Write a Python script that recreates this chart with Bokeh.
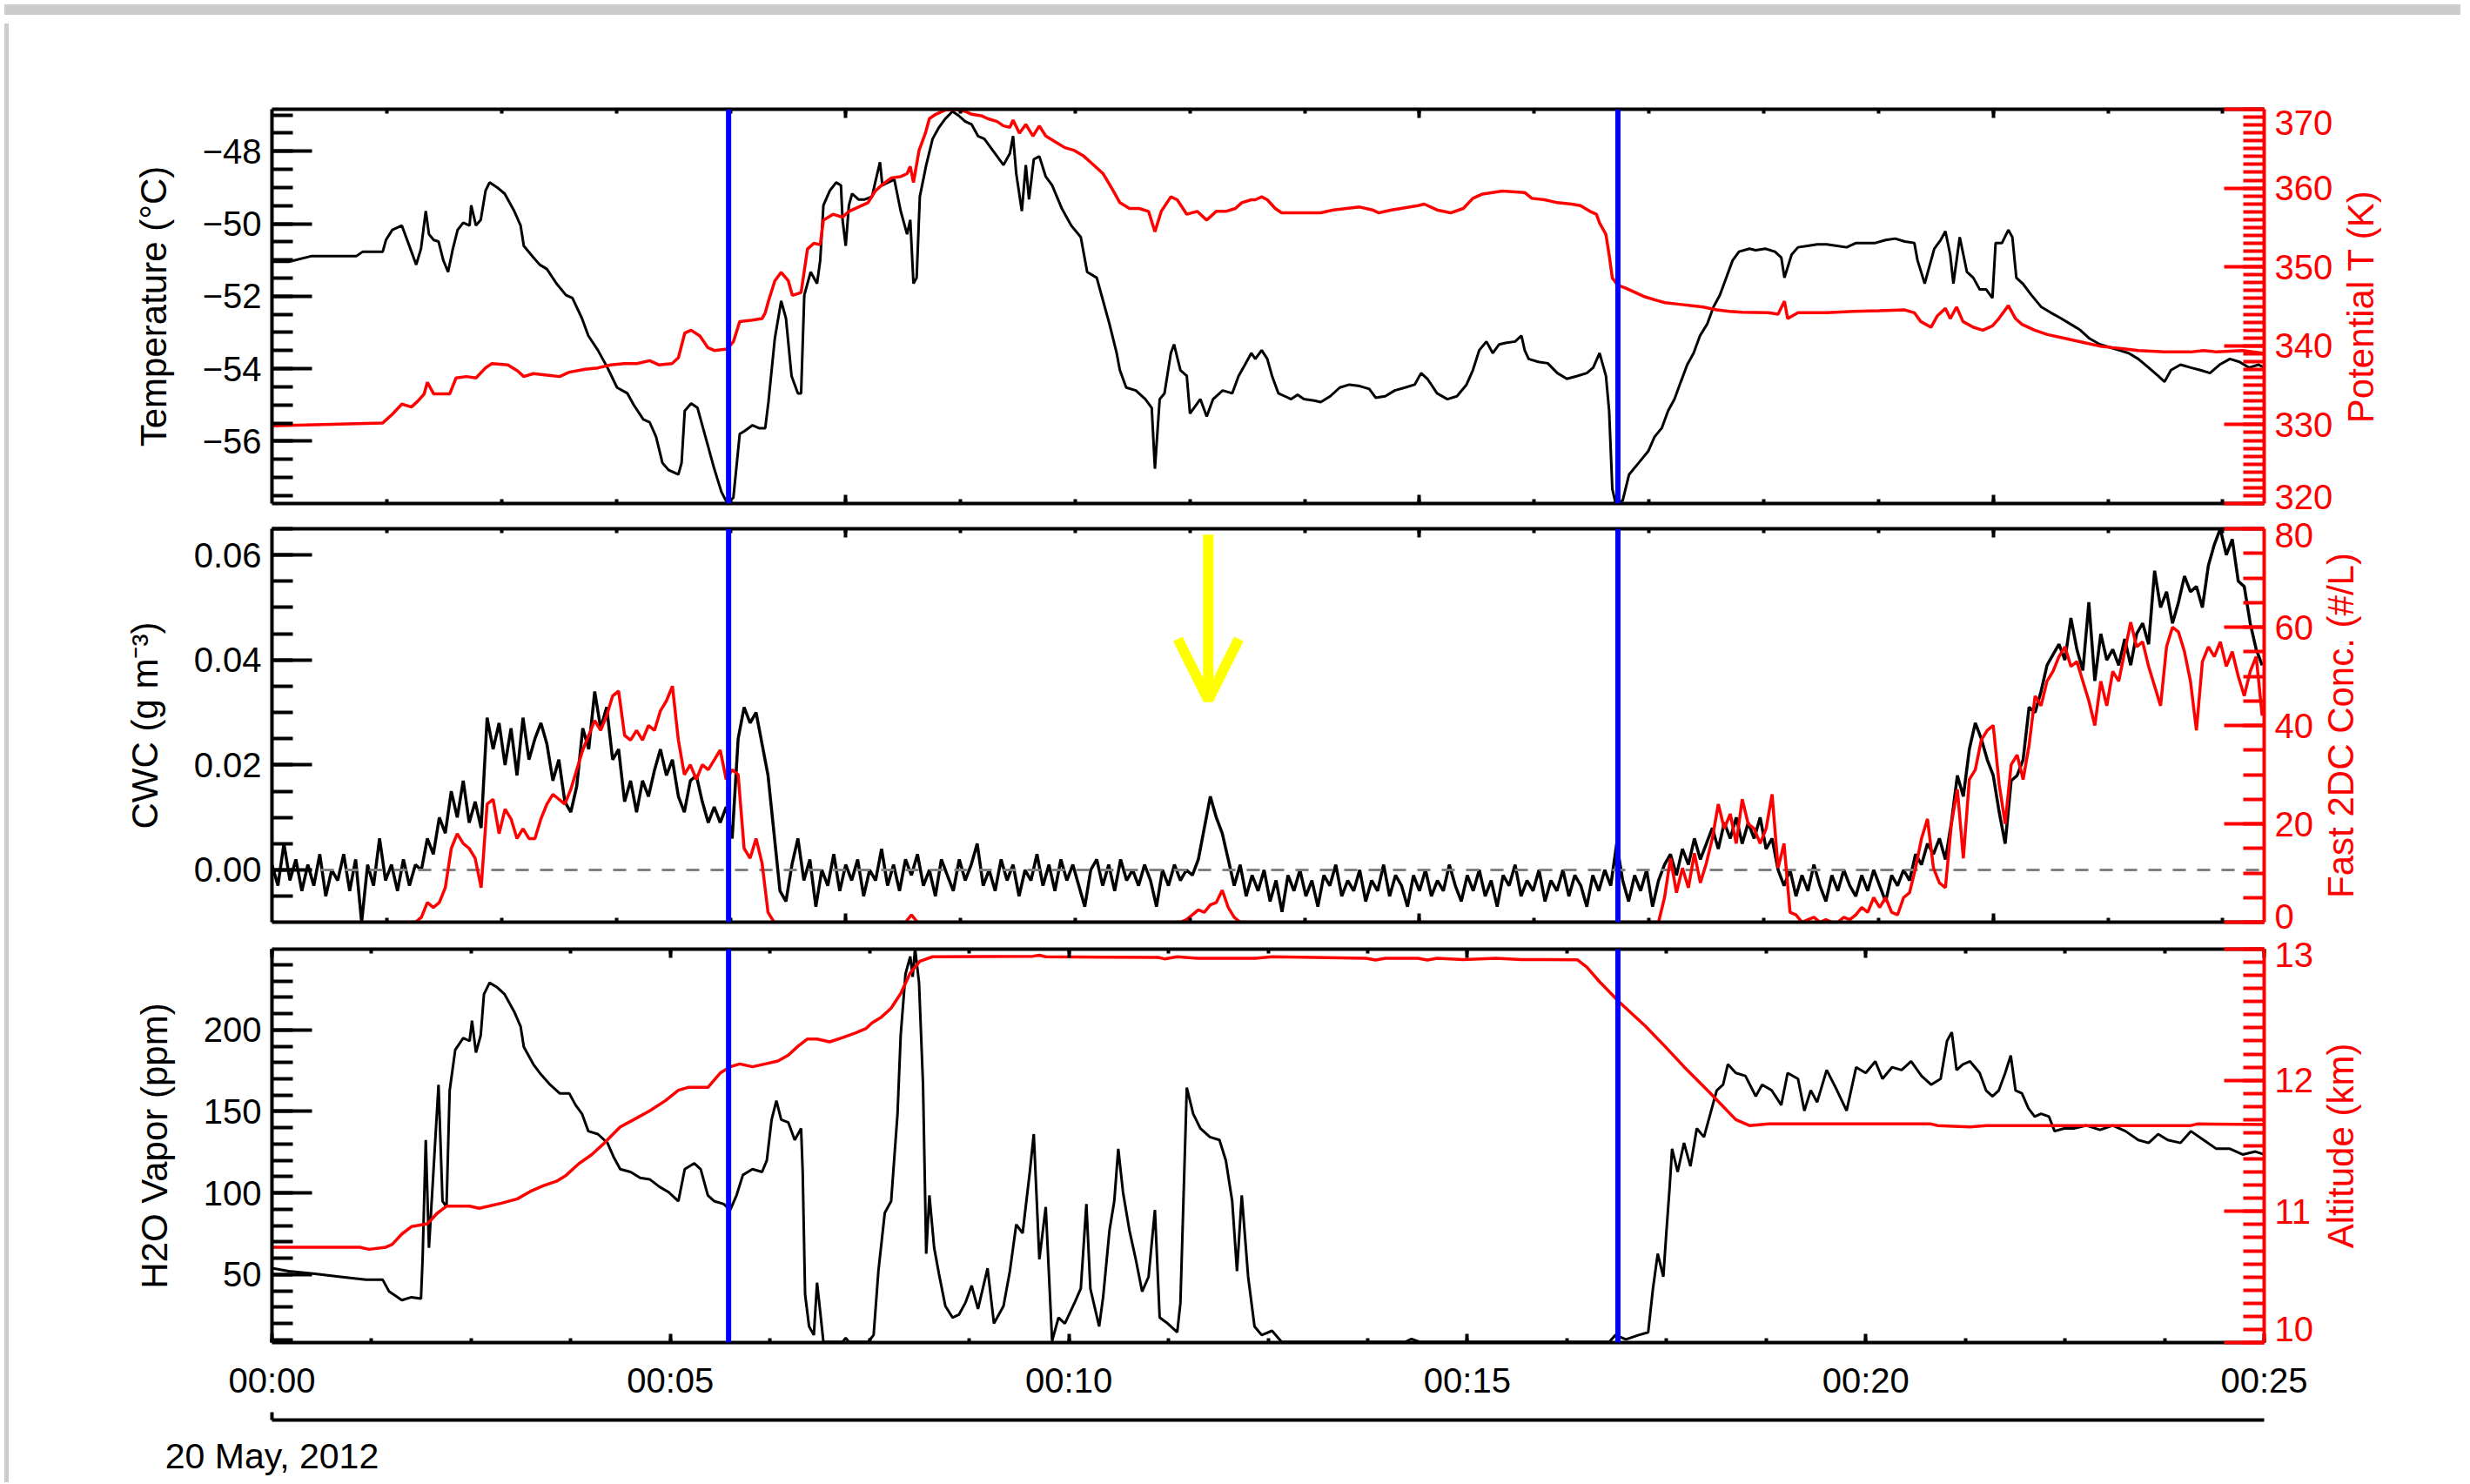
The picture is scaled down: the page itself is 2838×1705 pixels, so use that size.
import numpy as np
from bokeh.plotting import figure
from bokeh.models import (Range1d, LinearAxis, SingleIntervalTicker, FixedTicker,
                          PrintfTickFormatter, CustomJSTickFormatter, Span, Arrow, OpenHead, Div)
from bokeh.layouts import column, row
from bokeh.embed import file_html
from bokeh.resources import INLINE

# ---------------- data (time in minutes after 00:00 UT, 20 May 2012) ----------------
temp_pts = [
(0.00,-51.05),(0.21,-51.05),(0.50,-50.89),(1.06,-50.89),(1.14,-50.77),(1.39,-50.77),(1.43,-50.45),(1.51,-50.17),
(1.63,-50.05),(1.71,-50.53),(1.81,-51.13),(1.87,-50.69),(1.93,-49.65),(1.97,-50.29),(2.03,-50.45),(2.09,-50.49),
(2.15,-51.01),(2.21,-51.33),(2.27,-50.69),(2.33,-50.17),(2.40,-49.97),(2.48,-50.05),(2.50,-49.49),(2.56,-50.05),
(2.62,-49.89),(2.68,-49.09),(2.73,-48.86),(2.84,-49.02),(2.92,-49.17),(3.04,-49.65),(3.12,-50.05),(3.16,-50.61),
(3.28,-50.93),(3.36,-51.13),(3.45,-51.25),(3.57,-51.65),(3.69,-51.97),(3.77,-52.05),(3.89,-52.61),(3.97,-53.09),
(4.09,-53.49),(4.21,-53.97),(4.33,-54.52),(4.46,-54.68),(4.54,-55.00),(4.66,-55.40),(4.74,-55.48),(4.82,-55.88),
(4.90,-56.60),(4.98,-56.80),(5.10,-56.92),(5.14,-56.60),(5.18,-55.16),(5.26,-54.96),(5.34,-55.08),(5.43,-55.80),
(5.55,-56.76),(5.64,-57.40),(5.71,-57.70),(5.79,-57.56),(5.87,-55.80),(5.93,-55.72),(6.03,-55.56),(6.11,-55.64),
(6.19,-55.64),(6.23,-54.92),(6.31,-53.17),(6.39,-52.13),(6.45,-52.61),(6.52,-54.20),(6.60,-54.68),(6.64,-54.68),
(6.68,-51.97),(6.76,-51.33),(6.84,-51.65),(6.88,-51.01),(6.92,-49.49),(7.00,-49.09),(7.08,-48.86),(7.14,-48.94),
(7.16,-49.89),(7.20,-50.61),(7.24,-49.49),(7.28,-49.17),(7.36,-49.33),(7.44,-49.33),(7.53,-49.25),(7.57,-48.86),
(7.63,-48.30),(7.66,-48.94),(7.73,-48.86),(7.81,-48.78),(7.89,-49.65),(7.97,-50.29),(8.01,-49.89),(8.05,-51.65),
(8.09,-51.49),(8.13,-49.25),(8.21,-48.38),(8.29,-47.66),(8.37,-47.34),(8.45,-47.10),(8.54,-46.90),(8.62,-47.02),
(8.70,-47.18),(8.78,-47.26),(8.86,-47.58),(8.94,-47.66),(9.02,-47.90),(9.10,-48.14),(9.18,-48.38),(9.26,-48.06),
(9.30,-47.58),(9.34,-48.62),(9.41,-49.65),(9.46,-48.38),(9.50,-49.33),(9.56,-48.22),(9.63,-48.14),(9.71,-48.70),
(9.79,-48.94),(9.91,-49.57),(10.03,-50.05),(10.15,-50.37),(10.23,-51.33),(10.35,-51.49),(10.43,-52.13),(10.51,-52.77),
(10.60,-53.57),(10.64,-54.04),(10.72,-54.52),(10.84,-54.60),(10.96,-54.84),(11.04,-55.08),(11.08,-56.76),(11.14,-54.84),
(11.20,-54.68),(11.28,-53.57),(11.32,-53.33),(11.40,-54.04),(11.48,-54.20),(11.52,-55.24),(11.65,-54.84),(11.73,-55.32),
(11.81,-54.84),(11.93,-54.60),(12.05,-54.68),(12.13,-54.20),(12.21,-53.89),(12.29,-53.57),(12.34,-53.73),(12.42,-53.49),
(12.49,-53.73),(12.55,-54.20),(12.63,-54.68),(12.71,-54.76),(12.79,-54.84),(12.87,-54.72),(12.95,-54.84),(13.08,-54.88),
(13.16,-54.92),(13.28,-54.76),(13.40,-54.52),(13.52,-54.44),(13.65,-54.48),(13.77,-54.56),(13.85,-54.80),(13.97,-54.76),
(14.09,-54.60),(14.22,-54.52),(14.34,-54.44),(14.42,-54.12),(14.50,-54.28),(14.62,-54.68),(14.75,-54.84),(14.87,-54.76),
(14.99,-54.44),(15.07,-54.04),(15.15,-53.49),(15.24,-53.25),(15.32,-53.57),(15.40,-53.33),(15.48,-53.29),(15.60,-53.25),
(15.68,-53.09),(15.72,-53.49),(15.77,-53.73),(15.89,-53.81),(16.01,-53.85),(16.13,-54.12),(16.25,-54.28),(16.38,-54.20),
(16.50,-54.12),(16.58,-53.97),(16.66,-53.57),(16.74,-54.20),(16.78,-55.16),(16.82,-57.32),(16.86,-57.70),(16.95,-57.64),
(17.03,-56.92),(17.15,-56.60),(17.27,-56.28),(17.35,-55.88),(17.44,-55.64),(17.52,-55.16),(17.60,-54.84),(17.68,-54.36),
(17.76,-53.89),(17.84,-53.57),(17.92,-53.09),(18.01,-52.77),(18.09,-52.29),(18.17,-51.97),(18.25,-51.49),(18.33,-51.01),
(18.41,-50.77),(18.54,-50.69),(18.62,-50.73),(18.74,-50.69),(18.86,-50.77),(18.94,-50.93),(18.98,-51.49),(19.07,-50.85),
(19.15,-50.65),(19.27,-50.61),(19.39,-50.57),(19.51,-50.57),(19.64,-50.61),(19.76,-50.65),(19.88,-50.53),(20.00,-50.53),
(20.12,-50.53),(20.25,-50.45),(20.37,-50.41),(20.49,-50.49),(20.61,-50.53),(20.65,-51.01),(20.74,-51.65),(20.78,-51.33),
(20.86,-50.69),(20.94,-50.45),(21.00,-50.21),(21.06,-50.85),(21.10,-51.65),(21.18,-50.37),(21.27,-51.33),(21.35,-51.49),
(21.43,-51.81),(21.51,-51.81),(21.59,-52.05),(21.63,-50.53),(21.71,-50.53),(21.79,-50.17),(21.84,-50.37),(21.89,-51.49),
(21.97,-51.65),(22.08,-51.97),(22.20,-52.29),(22.32,-52.45),(22.45,-52.61),(22.57,-52.77),(22.69,-52.93),(22.81,-53.17),
(22.94,-53.33),(23.06,-53.41),(23.18,-53.49),(23.30,-53.57),(23.42,-53.73),(23.55,-53.97),(23.67,-54.20),(23.75,-54.36),
(23.83,-54.04),(23.95,-53.89),(24.08,-53.97),(24.20,-54.04),(24.32,-54.12),(24.44,-53.89),(24.57,-53.73),(24.69,-53.81),
(24.81,-53.97),(24.93,-53.89),(25.00,-53.97)]

theta_pts = [
(0.00,329.85),(1.39,330.22),(1.51,331.32),(1.63,332.61),(1.75,332.24),(1.83,332.98),(1.91,333.90),(1.95,335.37),
(2.03,333.90),(2.23,333.90),(2.31,335.92),(2.44,336.10),(2.56,335.92),(2.68,337.20),(2.76,337.75),(2.96,337.57),
(3.08,336.84),(3.16,336.10),(3.28,336.47),(3.45,336.28),(3.61,336.10),(3.73,336.65),(3.93,337.02),(4.09,337.20),
(4.25,337.57),(4.42,337.75),(4.58,337.75),(4.74,338.12),(4.86,337.57),(5.02,337.75),(5.10,338.49),(5.18,341.61),
(5.26,341.98),(5.37,341.25),(5.47,339.77),(5.55,339.41),(5.71,339.59),(5.79,340.51),(5.87,343.08),(6.03,343.27),
(6.15,343.45),(6.19,344.19),(6.23,345.66),(6.31,348.23),(6.39,349.33),(6.48,348.23),(6.53,346.39),(6.64,346.76),
(6.72,352.27),(6.80,353.01),(6.88,352.82),(6.92,355.94),(7.04,356.68),(7.16,356.31),(7.24,357.05),(7.36,357.60),
(7.48,358.15),(7.57,359.62),(7.65,360.36),(7.77,361.27),(7.89,361.46),(7.97,361.83),(8.01,362.74),(8.05,360.72),
(8.12,364.77),(8.20,366.97),(8.25,368.81),(8.33,369.36),(8.45,369.91),(8.58,369.98),(8.70,369.73),(8.78,369.36),
(8.90,369.18),(8.98,368.81),(9.10,368.44),(9.18,367.89),(9.26,367.71),(9.30,368.62),(9.38,366.97),(9.46,368.07),
(9.55,366.60),(9.63,367.89),(9.71,366.60),(9.83,365.87),(9.95,365.13),(10.07,364.77),(10.19,364.03),(10.31,362.93),
(10.43,361.83),(10.56,359.62),(10.64,358.15),(10.76,357.42),(10.88,357.42),(11.00,357.05),(11.08,354.47),(11.16,357.05),
(11.28,358.89),(11.36,358.52),(11.48,356.68),(11.61,357.05),(11.73,355.94),(11.85,357.05),(11.97,357.05),(12.09,357.42),
(12.17,358.15),(12.29,358.52),(12.34,358.52),(12.42,358.89),(12.49,358.52),(12.59,357.42),(12.67,356.86),(13.16,356.86),
(13.32,357.23),(13.65,357.60),(13.81,357.23),(13.89,356.86),(14.05,357.23),(14.38,357.78),(14.46,357.97),(14.62,357.23),
(14.79,356.86),(14.95,357.42),(15.07,358.70),(15.19,359.25),(15.44,359.62),(15.72,359.44),(15.81,358.70),(15.97,358.52),
(16.13,358.15),(16.31,357.97),(16.42,357.78),(16.54,357.05),(16.62,356.68),(16.66,355.58),(16.74,354.11),(16.78,351.54),
(16.82,348.60),(16.89,347.68),(16.99,347.31),(17.11,346.76),(17.23,346.21),(17.35,345.84),(17.48,345.47),(17.64,345.29),
(17.80,345.10),(17.96,344.92),(18.13,344.55),(18.29,344.37),(18.45,344.26),(18.78,344.19),(18.90,344.00),(18.98,345.66),
(19.02,343.45),(19.15,344.19),(19.51,344.19),(19.84,344.37),(20.17,344.44),(20.49,344.55),(20.61,344.19),(20.69,343.08),
(20.82,342.35),(20.90,343.82),(21.00,344.74),(21.06,343.45),(21.14,344.92),(21.22,343.08),(21.35,342.35),(21.47,341.98),
(21.59,342.53),(21.67,343.45),(21.79,345.10),(21.88,343.45),(21.96,342.72),(22.12,341.98),(22.28,341.43),(22.45,341.06),
(22.61,340.69),(22.77,340.33),(22.94,339.96),(23.10,339.77),(23.26,339.59),(23.42,339.41),(23.75,339.22),(24.08,339.22),
(24.24,339.41),(24.40,339.22),(24.73,339.41),(25.00,339.04)]

# CWC and Fast 2DC samples on a regular 4.5 s (0.075 min) grid starting at 00:00
SAMPLE_DT = 0.075
cwc_mg = [  # CWC in mg m^-3
1,-3,5,-2,2,-4,1,-3,3,-5,0,-2,3,-4,2,-10,1,-3,6,-2,1,-4,2,-3,1,
0,6,3,10,7,15,10,17,9,13,8,
29,23,28,20,27,18,29,21,25,28,24,17,21,13,11,16,27,23,34,27,31,21,23,13,17,11,17,14,19,23,
18,21,14,11,17,18,13,9,12,9,12,6,25,31,28,30,24,18,7,
-4,-6,1,6,-2,2,-7,0,-3,3,-4,1,-2,2,-5,0,-2,4,-3,1,-4,2,-1,3,-3,0,-5,2,-1,-4,
2,-2,1,5,-3,0,-4,2,-2,1,-5,0,-2,3,-3,1,-4,2,-2,1,-3,-7,0,2,-3,1,-4,2,-2,0,
-3,1,-2,-7,0,-3,1,-2,0,-1,
2,8,14,10,7,2,
-3,1,-5,-1,-4,0,-6,-2,-8,-1,-4,0,-5,-2,-7,-1,-3,1,-5,-2,-4,0,-6,-2,-4,1,-5,-1,-3,-7,
-1,-4,0,-5,-2,-4,1,-3,-6,-1,-4,0,-5,-2,-7,-1,-3,1,-5,-2,-4,0,-6,-2,-4,0,-5,-1,-3,-7,
-1,-4,0,-3,5,-2,-6,-1,-4,0,-7,-2,1,
3,-1,4,1,6,2,5,8,4,9,6,10,5,9,6,10,4,6,0,
-3,0,-5,-1,-4,1,-3,-6,-1,-4,0,-3,-5,-1,-4,0,-3,-6,-1,-3,0,-2,
3,1,5,3,6,2,
9,18,14,23,28,25,21,18,11,5,17,18,21,31,30,34,39,41,43,40,
48,42,38,51,36,45,40,42,39,44,39,45,47,43,57,50,53,47,51,56,
53,54,50,58,62,65,60,63,55,54,47,42,39]

conc_2dc = [  # Fast 2DC concentration, #/L
0,0,0,0,0,0,0,0,0,0,0,0,0,0,0,0,0,0,0,0,0,0,0,0,0,
1,4,3,4,7,15,18,16,15,13,7,24,25,18,23,21,17,19,17,17,21,24,26,25,24,27,31,35,38,41,
39,42,46,47,38,37,39,37,40,39,43,45,48,37,30,32,29,32,31,33,35,29,31,30,15,13,17,12,2,0,
0,0,0,0,0,0,0,0,0,0,0,0,0,0,0,0,0,0,0,0,0,0,1.5,
0,0,0,0,0,0,0,0,0,0,0,0,0,0,0,0,0,0,0,0,0,0,0,0,0,0,0,0,0,0,0,0,0,0,0,0,0,0,0,0,0,0,0,0,0,
0.5,1.5,2.5,2,3.5,4,6.5,3,1,
0,0,0,0,0,0,0,0,0,0,0,0,0,0,0,0,0,0,0,0,0,0,0,0,0,0,0,0,0,0,0,0,0,0,0,0,
0,0,0,0,0,0,0,0,0,0,0,0,0,0,0,0,0,0,0,0,0,0,0,0,0,0,0,0,0,0,0,0,0,0,0,
5,13,6,11,7,14,8,12,17,24,19,22,16,25,20,19,16,19,26,11,16,2,1.5,0,0.5,1,0,0.5,0,0,
1,0.5,1.5,3,2,5,3,5,2,1.5,5,6,11,17,21,11,8,7,20,27,13,29,31,37,39,40,28,20,32,34,
29,36,46,44,49,51,54,56,52,53,49,45,40,49,44,51,49,55,61,56,57,52,48,44,56,60,59,55,49,39,
53,56,54,57,52,55,50,46,51,54,42]

h2o_pts = [
(0.00,53.9),(0.21,52.1),(0.54,50.4),(0.86,48.6),(1.18,46.8),(1.39,46.8),(1.47,39.6),(1.63,34.3),(1.75,36.1),(1.87,35.2),
(1.89,59.3),(1.93,132.5),(1.97,66.4),(2.03,116.4),(2.09,166.4),(2.14,95.0),(2.19,91.4),(2.23,162.9),(2.30,187.8),(2.40,195.0),
(2.48,193.2),(2.51,205.7),(2.56,186.1),(2.62,196.8),(2.66,221.8),(2.73,228.9),(2.82,226.3),(2.92,221.8),(3.04,211.1),(3.12,202.1),
(3.16,189.6),(3.28,178.9),(3.36,173.6),(3.49,166.4),(3.61,161.1),(3.73,161.1),(3.81,153.9),(3.89,148.6),(3.97,137.9),(4.09,136.1),
(4.21,130.7),(4.29,121.8),(4.37,114.6),(4.50,112.9),(4.62,109.3),(4.74,108.4),(4.86,103.9),(4.98,100.4),(5.10,95.0),(5.18,114.6),
(5.30,118.2),(5.38,114.6),(5.47,98.6),(5.55,95.0),(5.67,93.2),(5.75,89.6),(5.83,98.6),(5.91,111.1),(6.03,114.6),(6.15,112.9),
(6.21,120.0),(6.27,145.0),(6.33,156.6),(6.39,145.0),(6.48,143.2),(6.56,132.5),(6.64,139.6),(6.66,112.9),(6.69,37.9),(6.74,18.2),
(6.80,12.9),(6.84,45.0),(6.88,27.1),(6.92,8.7),(7.16,8.7),(7.20,11.1),(7.24,8.7),(7.48,8.7),(7.55,12.9),(7.61,52.1),
(7.69,87.8),(7.77,95.0),(7.85,148.6),(7.89,196.8),(7.95,234.3),(8.01,245.0),(8.04,232.5),(8.07,250.0),(8.12,228.9),(8.17,166.4),
(8.21,62.8),(8.25,98.6),(8.31,66.4),(8.37,50.4),(8.45,30.7),(8.54,23.6),(8.62,25.4),(8.70,32.5),(8.78,43.2),(8.86,28.9),
(8.98,53.9),(9.06,20.0),(9.18,30.7),(9.26,52.1),(9.34,80.7),(9.42,75.4),(9.51,112.9),(9.56,136.1),(9.63,59.3),(9.71,91.4),
(9.79,9.3),(9.87,23.6),(9.95,20.0),(10.07,32.5),(10.15,41.4),(10.22,93.2),(10.27,41.4),(10.38,18.2),(10.43,36.1),(10.51,77.1),
(10.57,95.0),(10.62,127.1),(10.68,100.4),(10.76,77.1),(10.84,59.3),(10.92,39.6),(11.00,48.6),(11.08,89.6),(11.14,23.6),(11.24,20.0),
(11.36,14.6),(11.40,32.5),(11.48,164.6),(11.56,148.6),(11.65,139.6),(11.77,134.3),(11.89,132.5),(11.97,120.0),(12.05,95.0),(12.11,52.1),
(12.17,98.6),(12.25,48.6),(12.33,18.2),(12.42,12.9),(12.55,15.5),(12.67,8.7),(14.22,8.7),(14.30,10.5),(14.40,8.7),(16.78,8.7),
(16.86,12.9),(16.99,10.2),(17.15,12.9),(17.27,14.6),(17.33,41.4),(17.39,62.8),(17.46,48.6),(17.50,77.1),(17.54,104.0),(17.57,127.1),
(17.64,112.9),(17.72,130.7),(17.80,116.4),(17.88,139.6),(17.97,134.3),(18.05,148.6),(18.13,162.9),(18.21,166.4),(18.27,178.9),(18.37,173.6),
(18.49,171.8),(18.62,159.3),(18.70,166.4),(18.82,162.9),(18.94,153.9),(19.02,173.6),(19.15,170.0),(19.23,150.4),(19.31,162.9),(19.39,155.7),
(19.51,175.4),(19.64,162.9),(19.76,150.4),(19.88,177.1),(20.00,173.6),(20.12,180.7),(20.21,170.0),(20.33,177.1),(20.45,175.4),(20.57,180.7),
(20.70,171.8),(20.82,166.4),(20.94,170.0),(21.02,193.2),(21.08,198.6),(21.14,175.4),(21.22,178.9),(21.31,180.7),(21.43,173.6),(21.51,162.9),
(21.59,159.3),(21.67,162.9),(21.75,173.6),(21.82,184.3),(21.88,162.9),(21.96,161.1),(22.04,152.1),(22.12,146.8),(22.20,148.6),(22.30,146.8),
(22.37,137.9),(22.49,139.6),(22.61,139.6),(22.77,141.4),(22.94,138.7),(23.10,141.4),(23.26,137.9),(23.42,132.5),(23.55,130.7),(23.67,136.1),
(23.79,132.5),(23.95,130.7),(24.08,137.9),(24.24,132.5),(24.40,127.1),(24.57,127.1),(24.73,123.6),(24.89,125.4),(25.00,123.6)]

alt_pts = [
(0.00,10.727),(1.10,10.727),(1.22,10.711),(1.43,10.727),(1.51,10.749),(1.63,10.828),(1.75,10.884),(1.95,10.906),
(2.07,10.984),(2.19,11.040),(2.48,11.040),(2.60,11.024),(2.72,11.040),(2.88,11.063),(3.08,11.096),(3.24,11.152),
(3.41,11.197),(3.57,11.230),(3.69,11.275),(3.85,11.364),(4.01,11.432),(4.17,11.521),(4.37,11.644),(4.54,11.700),
(4.74,11.767),(4.94,11.846),(5.10,11.924),(5.22,11.946),(5.47,11.946),(5.63,12.058),(5.75,12.103),(5.87,12.125),
(6.03,12.103),(6.19,12.125),(6.35,12.147),(6.48,12.192),(6.60,12.259),(6.72,12.315),(6.84,12.315),(7.00,12.293),
(7.16,12.326),(7.32,12.360),(7.45,12.393),(7.53,12.438),(7.65,12.483),(7.77,12.550),(7.89,12.662),(8.01,12.819),
(8.13,12.908),(8.29,12.942),(9.55,12.946),(9.63,12.953),(9.71,12.942),(11.12,12.937),(11.20,12.926),(11.36,12.942),
(11.61,12.930),(12.34,12.930),(12.55,12.942),(13.73,12.930),(13.85,12.917),(13.97,12.930),(14.38,12.930),(14.50,12.917),
(14.62,12.930),(14.95,12.921),(15.36,12.930),(15.68,12.921),(16.38,12.919),(16.50,12.863),(16.66,12.751),(16.91,12.595),
(17.23,12.416),(17.48,12.259),(17.72,12.103),(18.05,11.901),(18.37,11.700),(18.54,11.655),(18.78,11.667),(20.82,11.667),
(20.90,11.655),(21.31,11.644),(21.51,11.655),(24.08,11.655),(24.16,11.667),(25.00,11.662)]

event_times = [5.73, 16.89]          # blue vertical markers (minutes)
arrow_time = 11.75                   # yellow arrow (minutes)
arrow_cwc = (0.0639, 0.0324)         # arrow start / tip in CWC units

time_labels = {0: "00:00", 5: "00:05", 10: "00:10", 15: "00:15", 20: "00:20", 25: "00:25"}
date_label = "20 May, 2012"

# ---------------- styling ----------------
FONT = "Liberation Sans"
TICK_FS = "40px"
TITLE_FS = "42px"
RED = "#ff0000"
XMIN, XMAX = 0.0, 25.0
FW = 2289
LEFT_B = 297

blank_fmt = CustomJSTickFormatter(code="return '';")

def unzip(pts):
    a = np.array(pts, dtype=float)
    return a[:, 0], a[:, 1]

def style_axis(ax, color="black", major_in=46, minor_in=24, labels=True, fs=TICK_FS):
    ax.axis_line_color = color
    ax.axis_line_width = 4
    ax.major_tick_line_color = color
    ax.major_tick_line_width = 4
    ax.minor_tick_line_color = color
    ax.minor_tick_line_width = 4
    ax.major_tick_in = major_in
    ax.major_tick_out = 0
    ax.minor_tick_in = minor_in
    ax.minor_tick_out = 0
    ax.major_label_text_color = color
    ax.major_label_text_font = FONT
    ax.major_label_text_font_size = fs if labels else "1px"
    ax.major_label_standoff = 12 if labels else 0
    if not labels:
        ax.formatter = blank_fmt
    ax.axis_label_text_color = color
    ax.axis_label_text_font = FONT
    ax.axis_label_text_font_size = TITLE_FS
    ax.axis_label_text_font_style = "normal"
    ax.axis_label_standoff = 14

def make_fig(fh, yr, yr2, top, bottom, right):
    p = figure(frame_width=FW, frame_height=fh, x_range=Range1d(XMIN, XMAX), y_range=Range1d(*yr),
               output_backend="svg", toolbar_location=None, x_axis_location=None, y_axis_location=None,
               min_border_left=LEFT_B, min_border_right=right, min_border_top=top, min_border_bottom=bottom,
               outline_line_color=None, background_fill_color="white", border_fill_color="white")
    p.extra_y_ranges = {"r": Range1d(*yr2)}
    p.grid.visible = False
    return p

def make_title_strip(fh, top, bottom, left, title):
    # narrow companion figure whose (left) axis carries the red right-hand title, read bottom-to-top
    s = figure(frame_width=1, frame_height=fh, x_range=Range1d(0, 1), y_range=Range1d(0, 1),
               output_backend="svg", toolbar_location=None, x_axis_location=None, y_axis_location=None,
               min_border_left=left, min_border_right=0, min_border_top=top, min_border_bottom=bottom,
               outline_line_color=None, background_fill_color="white", border_fill_color="white")
    s.grid.visible = False
    ax = LinearAxis(ticker=FixedTicker(ticks=[], minor_ticks=[]), axis_label=title)
    style_axis(ax, color=RED, major_in=0, minor_in=0, labels=False)
    ax.axis_line_color = None
    ax.major_tick_line_color = None
    ax.minor_tick_line_color = None
    ax.axis_label_standoff = 0
    s.add_layout(ax, "left")
    return s

def add_x_axes(p, major, minor, bottom_labels=False):
    for side in ["above", "below"]:
        ax = LinearAxis(ticker=FixedTicker(ticks=major, minor_ticks=minor))
        if side == "below" and bottom_labels:
            style_axis(ax, major_in=10, minor_in=5, labels=True)
            ax.major_label_standoff = 21
            ax.major_label_overrides = time_labels
            ax.axis_label = " "
            ax.axis_label_text_font_size = "12px"
            ax.axis_label_standoff = 4
        else:
            style_axis(ax, major_in=10, minor_in=5, labels=False)
        p.add_layout(ax, side)

def add_y_axes(p, left_ticker, left_label, right_ticker, end_labels, left_fmt=None):
    la = LinearAxis(ticker=left_ticker, axis_label=left_label)
    style_axis(la)
    la.axis_label_standoff = 30
    if left_fmt is not None:
        la.formatter = left_fmt
    p.add_layout(la, "left")
    ra = LinearAxis(ticker=right_ticker, y_range_name="r")
    style_axis(ra, color=RED)
    # labels at the two ends of the axis sit just inside the panel, as in the original
    ra.major_label_text_line_height = 0.7
    ra.major_label_overrides = end_labels
    p.add_layout(ra, "right")

top_major = [7.2, 14.4, 21.6]
top_minor = [round(i * 1.44, 2) for i in range(1, 18)]
bot_major = [0, 5, 10, 15, 20, 25]
bot_minor = [i * 1.25 for i in range(21)]

minus_fmt = CustomJSTickFormatter(code="return (tick < 0 ? '\u2212' : '') + Math.abs(tick).toFixed(0);")

# ---------------- panel 1: temperature / potential temperature ----------------
p1 = make_fig(453, (-57.72, -46.84), (320, 370), top=103, bottom=14, right=80)
add_x_axes(p1, top_major, top_minor)
add_y_axes(p1, SingleIntervalTicker(interval=2, num_minor_ticks=4), "Temperature (\u00b0C)",
           SingleIntervalTicker(interval=10, num_minor_ticks=10), {370: "\n370", 320: "\n320"},
           left_fmt=minus_fmt)
tt, tv = unzip(temp_pts)
p1.line(tt, tv, line_color="black", line_width=3)
th_t, th_v = unzip(theta_pts)
p1.line(th_t, th_v, line_color=RED, line_width=3.5, y_range_name="r")
s1 = make_title_strip(453, 103, 14, 52, "Potential T (K)")

# ---------------- panel 2: CWC / Fast 2DC ----------------
p2 = make_fig(452, (-0.00995, 0.065), (0, 80), top=15, bottom=15, right=58)
add_x_axes(p2, top_major, top_minor)
add_y_axes(p2, SingleIntervalTicker(interval=0.02, num_minor_ticks=4), "CWC (g m\u207b\u00b3)",
           SingleIntervalTicker(interval=20, num_minor_ticks=4), {80: "80\n", 0: "\n0"},
           left_fmt=PrintfTickFormatter(format="%.2f"))
cwc = np.array(cwc_mg, dtype=float) / 1000.0
cwc_t = np.arange(len(cwc)) * SAMPLE_DT
p2.line(cwc_t, cwc, line_color="black", line_width=3.5)
p2.line([XMIN, XMAX], [0, 0], line_color="#808080", line_width=3, line_dash="15 13")
conc = np.array(conc_2dc, dtype=float)
conc_t = np.arange(len(conc)) * SAMPLE_DT
p2.line(conc_t, conc, line_color=RED, line_width=3.5, y_range_name="r")
p2.add_layout(Arrow(end=OpenHead(size=70, line_color="#ffff00", line_width=12),
                    x_start=arrow_time, y_start=arrow_cwc[0], x_end=arrow_time, y_end=arrow_cwc[1],
                    line_color="#ffff00", line_width=12))
s2 = make_title_strip(452, 15, 15, 52, "Fast 2DC Conc. (#/L)")

# ---------------- panel 3: H2O vapour / altitude ----------------
p3 = make_fig(452, (8.3, 249.5), (10, 13), top=16, bottom=156, right=58)
add_x_axes(p3, bot_major, bot_minor, bottom_labels=True)
date_ax = LinearAxis(ticker=FixedTicker(ticks=[0], minor_ticks=[]))
style_axis(date_ax, major_in=9, minor_in=0, fs="41px")
date_ax.major_label_standoff = 18
date_ax.major_label_overrides = {0: date_label}
p3.add_layout(date_ax, "below")
add_y_axes(p3, SingleIntervalTicker(interval=50, num_minor_ticks=5), "H2O Vapor (ppm)",
           SingleIntervalTicker(interval=1, num_minor_ticks=10), {13: "13\n", 10: "10\n"})
ht, hv = unzip(h2o_pts)
p3.line(ht, hv, line_color="black", line_width=3)
at, av = unzip(alt_pts)
p3.line(at, av, line_color=RED, line_width=3.5, y_range_name="r")
s3 = make_title_strip(452, 16, 156, 52, "Altitude (km)")

for p in (p1, p2, p3):
    for et in event_times:
        p.add_layout(Span(location=et, dimension="height", line_color="#0000ff", line_width=6))

GRAY = "#cccccc"
top_band = Div(text="", width=2822, height=12, styles={"background-color": GRAY})
left_band = Div(text="", width=5, height=1676, styles={"background-color": GRAY})
panels = column(row(p1, s1), row(p2, s2), row(p3, s3))
layout = column(top_band, row(left_band, panels))

open("out.html", "w").write(file_html(layout, INLINE))
